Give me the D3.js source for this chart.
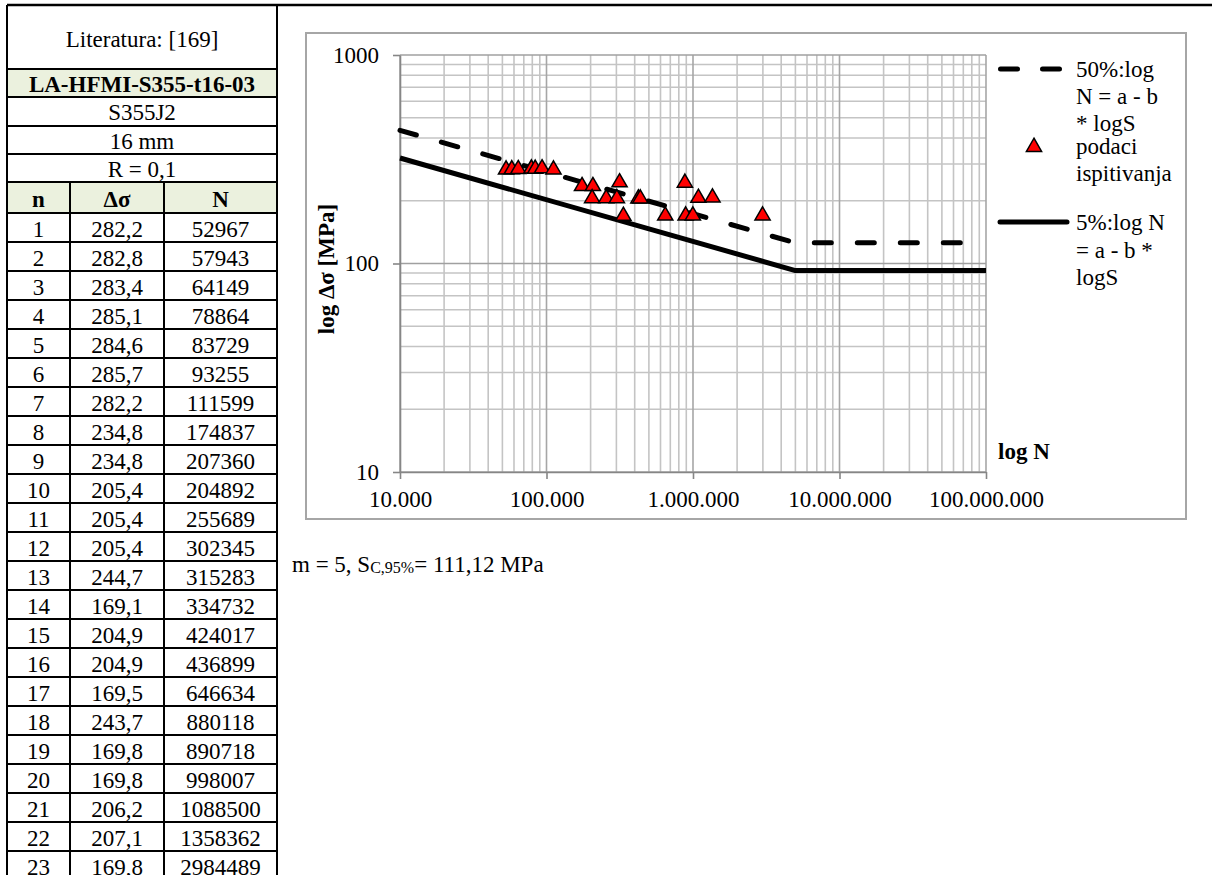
<!DOCTYPE html>
<html><head><meta charset="utf-8">
<script src="https://cdn.jsdelivr.net/npm/d3@7"></script>
<style>
html,body{margin:0;padding:0;background:#fff;}
svg{display:block;font-family:"Liberation Serif","Times New Roman",serif;}
</style></head><body>
<svg id="c" width="1212" height="875"></svg>
<script>
// ---------- data ----------
const tableTitle = "Literatura: [169]";
const specimenLabel = "LA-HFMI-S355-t16-03";
const materialLabel = "S355J2";
const thicknessLabel = "16 mm";
const ratioLabel = "R = 0,1";
const columnHeaders = ["n", "Δσ", "N"];
const testIndex = [1,2,3,4,5,6,7,8,9,10,11,12,13,14,15,16,17,18,19,20,21,22,23];
const stressRange = [282.2,282.8,283.4,285.1,284.6,285.7,282.2,234.8,234.8,205.4,205.4,205.4,244.7,169.1,204.9,204.9,169.5,243.7,169.8,169.8,206.2,207.1,169.8];
const cyclesToFailure = [52967,57943,64149,78864,83729,93255,111599,174837,207360,204892,255689,302345,315283,334732,424017,436899,646634,880118,890718,998007,1088500,1358362,2984489];
// S-N curves
const curve50N = [10000, 5000000, 100000000];
const curve50S = [435, 125.6, 125.6];
const curve5N = [10000, 5000000, 100000000];
const curve5S = [320.6, 92.5, 92.5];
// axes
const yTicks = [10, 100, 1000];
const yTickLabels = ["10", "100", "1000"];
const xTicks = [10000, 100000, 1000000, 10000000, 100000000];
const xTickLabels = ["10.000", "100.000", "1.000.000", "10.000.000", "100.000.000"];
const yTitle = "log Δσ [MPa]";
const xTitle = "log N";
const legend50 = ["50%:log", "N = a - b", "* logS"];
const legendData = ["podaci", "ispitivanja"];
const legend5 = ["5%:log N", "= a - b *", "logS"];
const noteMain = "m = 5, S";
const noteSub = "C,95%";
const noteTail = "= 111,12 MPa";

// ---------- drawing ----------
const svg = d3.select("#c");
const FS = 23;
const fmtComma = v => d3.format(".1f")(v).replace(".", ",");

// top frame line
svg.append("line").attr("x1", 7).attr("x2", 1212).attr("y1", 5).attr("y2", 5)
  .attr("stroke", "#000").attr("stroke-width", 2.5);

// ----- table -----
const colX = [7, 70, 164, 277];
const colC = [38.5, 117, 220.5];
const green = "#ebf1de";
const infoRows = [
  {t: tableTitle, y0: 5, y1: 69, base: 47, bold: false, fill: null},
  {t: specimenLabel, y0: 69, y1: 97, base: 92, bold: true, fill: green},
  {t: materialLabel, y0: 97, y1: 126, base: 120, bold: false, fill: null},
  {t: thicknessLabel, y0: 126, y1: 154, base: 149, bold: false, fill: null},
  {t: ratioLabel, y0: 154, y1: 182, base: 177, bold: false, fill: null}
];
const headTop = 182, headBot = 213, rowH = 29;
const tbl = svg.append("g");
infoRows.filter(r => r.fill).forEach(r => {
  tbl.append("rect").attr("x", colX[0]).attr("y", r.y0).attr("width", colX[3]-colX[0]).attr("height", r.y1-r.y0).attr("fill", r.fill);
});
tbl.append("rect").attr("x", colX[0]).attr("y", headTop).attr("width", colX[3]-colX[0]).attr("height", headBot-headTop).attr("fill", green);

infoRows.forEach(r => {
  tbl.append("text").attr("x", (colX[0]+colX[3])/2).attr("y", r.base)
    .attr("text-anchor", "middle").attr("font-size", FS)
    .attr("font-weight", r.bold ? "bold" : "normal").text(r.t);
});
columnHeaders.forEach((h, i) => {
  tbl.append("text").attr("x", colC[i]).attr("y", 207).attr("text-anchor", "middle")
    .attr("font-size", FS).attr("font-weight", "bold").text(h);
});
testIndex.forEach((n, i) => {
  const top = headBot + i*rowH;
  const vals = [String(n), fmtComma(stressRange[i]), String(cyclesToFailure[i])];
  vals.forEach((v, j) => {
    tbl.append("text").attr("x", colC[j]).attr("y", top + 24).attr("text-anchor", "middle")
      .attr("font-size", FS).text(v);
  });
});
// table lines
const hLines = [69, 97, 126, 154, 182, 213].concat(testIndex.map((d, i) => headBot + (i+1)*rowH));
hLines.forEach(yy => tbl.append("line").attr("x1", colX[0]).attr("x2", colX[3]).attr("y1", yy).attr("y2", yy)
  .attr("stroke", "#000").attr("stroke-width", 2));
[colX[0], colX[3]].forEach(xx => tbl.append("line").attr("x1", xx).attr("x2", xx).attr("y1", 5).attr("y2", 875)
  .attr("stroke", "#000").attr("stroke-width", 2));
[colX[1], colX[2]].forEach(xx => tbl.append("line").attr("x1", xx).attr("x2", xx).attr("y1", headTop).attr("y2", 875)
  .attr("stroke", "#000").attr("stroke-width", 2));

// ----- chart -----
svg.append("rect").attr("x", 306).attr("y", 33).attr("width", 880).attr("height", 486)
  .attr("fill", "none").attr("stroke", "#a6a6a6").attr("stroke-width", 2);

const x = d3.scaleLog().domain([1e4, 1e8]).range([400, 986]);
const y = d3.scaleLog().domain([10, 1000]).range([472, 55]);
const isMajor = v => Math.abs(Math.log10(v) - Math.round(Math.log10(v))) < 1e-9;

const grid = svg.append("g");
const xt = x.ticks(), yt = y.ticks();
xt.filter(v => !isMajor(v)).forEach(v => grid.append("line").attr("x1", x(v)).attr("x2", x(v)).attr("y1", 55).attr("y2", 472)
  .attr("stroke", "#c4c4c4").attr("stroke-width", 1.6));
yt.filter(v => !isMajor(v)).forEach(v => grid.append("line").attr("x1", 400).attr("x2", 986).attr("y1", y(v)).attr("y2", y(v))
  .attr("stroke", "#c4c4c4").attr("stroke-width", 1.6));
xt.filter(isMajor).forEach(v => grid.append("line").attr("x1", x(v)).attr("x2", x(v)).attr("y1", 55).attr("y2", 472)
  .attr("stroke", "#a6a6a6").attr("stroke-width", 1.6));
yt.filter(isMajor).forEach(v => grid.append("line").attr("x1", 400).attr("x2", 986).attr("y1", y(v)).attr("y2", y(v))
  .attr("stroke", "#a0a0a0").attr("stroke-width", 1.6));

const yAxis = svg.append("g").attr("transform", "translate(400,0)")
  .call(d3.axisLeft(y).tickValues(yTicks).tickSize(7).tickSizeOuter(0).tickPadding(14)
    .tickFormat((d, i) => yTickLabels[i]));
const xAxis = svg.append("g").attr("transform", "translate(0,472)")
  .call(d3.axisBottom(x).tickValues(xTicks).tickSize(7).tickSizeOuter(0)
    .tickFormat((d, i) => xTickLabels[i]));
[yAxis, xAxis].forEach(a => {
  a.select(".domain").attr("stroke", "#868686").attr("stroke-width", 1.6);
  a.selectAll(".tick line").attr("stroke", "#868686").attr("stroke-width", 1.6);
  a.selectAll("text").attr("font-size", FS).attr("fill", "#000")
    .attr("font-family", "'Liberation Serif','Times New Roman',serif");
});
xAxis.selectAll("text").attr("y", 35).attr("dy", 0);

// curves
const line = d3.line().x(d => x(d[0])).y(d => y(d[1]));
const c50 = curve50N.map((n, i) => [n, curve50S[i]]);
const c5 = curve5N.map((n, i) => [n, curve5S[i]]);
svg.append("path").attr("d", line(c50)).attr("fill", "none").attr("stroke", "#000")
  .attr("stroke-width", 5).attr("stroke-dasharray", "17 26").attr("stroke-linecap", "round");
svg.append("path").attr("d", line(c5)).attr("fill", "none").attr("stroke", "#000")
  .attr("stroke-width", 5).attr("stroke-linejoin", "round");

// data points
const tri = d3.symbol(d3.symbolTriangle, 100);
svg.append("g").selectAll("path").data(testIndex.map((n, i) => [cyclesToFailure[i], stressRange[i]]))
  .join("path").attr("d", tri)
  .attr("transform", d => `translate(${x(d[0])},${y(d[1])})`)
  .attr("fill", "#ff0000").attr("stroke", "#000").attr("stroke-width", 1.5);

// axis titles
svg.append("text").attr("transform", "translate(334,269) rotate(-90)").attr("text-anchor", "middle")
  .attr("font-size", FS).attr("font-weight", "bold").text(yTitle);
svg.append("text").attr("x", 998).attr("y", 459).attr("font-size", FS).attr("font-weight", "bold").text(xTitle);

// legend
const lg = svg.append("g");
lg.append("line").attr("x1", 1000.5).attr("x2", 1059.5).attr("y1", 69).attr("y2", 69)
  .attr("stroke", "#000").attr("stroke-width", 5).attr("stroke-dasharray", "17 25").attr("stroke-linecap", "round");
legend50.forEach((t, i) => lg.append("text").attr("x", 1076).attr("y", 77 + i*27).attr("font-size", FS).text(t));
lg.append("path").attr("d", tri).attr("transform", "translate(1034,147)")
  .attr("fill", "#ff0000").attr("stroke", "#000").attr("stroke-width", 1.5);
legendData.forEach((t, i) => lg.append("text").attr("x", 1076).attr("y", 154 + i*27).attr("font-size", FS).text(t));
lg.append("line").attr("x1", 1000).attr("x2", 1067).attr("y1", 222).attr("y2", 222)
  .attr("stroke", "#000").attr("stroke-width", 5).attr("stroke-linecap", "round");
legend5.forEach((t, i) => lg.append("text").attr("x", 1076).attr("y", 230 + i*27.5).attr("font-size", FS).text(t));

// footnote
const note = svg.append("text").attr("x", 292).attr("y", 572).attr("font-size", FS);
note.append("tspan").text(noteMain);
note.append("tspan").attr("font-size", 16).attr("dy", 1).text(noteSub);
note.append("tspan").attr("font-size", FS).attr("dy", -1).text(noteTail);
</script>
</body></html>
